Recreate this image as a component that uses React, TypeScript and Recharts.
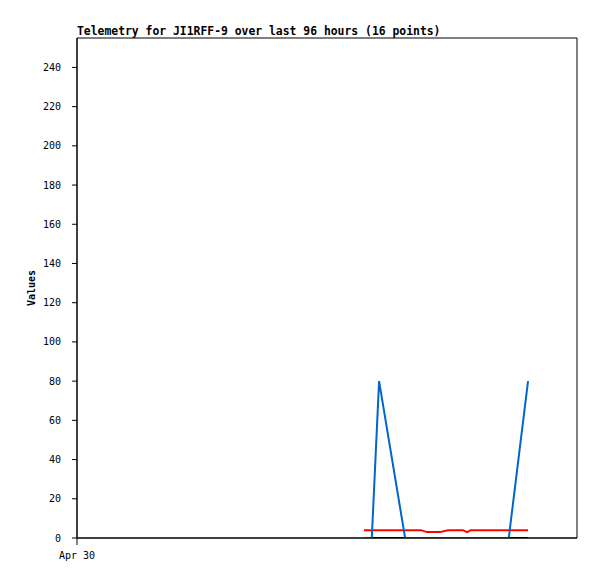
import React from 'react';
import { LineChart, Line, XAxis, YAxis, ReferenceArea } from 'recharts';

// hours since Apr 30 00:00 (x axis spans 96 hours)
const hours = [55.1, 56.6, 58.0, 63.0, 66.0, 67.2, 69.7, 71.2, 74.1, 74.9, 75.6, 78.3, 80.6, 82.9, 84.7, 86.6];
const blueValues = [0, 0, 80, 0, 0, 0, 0, 0, 0, 0, 0, 0, 0, 0, 39, 80];
const redValues = [4, 4, 4, 4, 4, 3, 3, 4, 4, 3, 4, 4, 4, 4, 4, 4];
const blackValues = [0, 0, 0, 0, 0, 0, 0, 0, 0, 0, 0, 0, 0, 0, 0, 0];
const yTicks = [0, 20, 40, 60, 80, 100, 120, 140, 160, 180, 200, 220, 240];
const xTicks = [0];
const xTickLabels = ['Apr 30'];

const data = hours.map((h, i) => ({
  t: h,
  blue: blueValues[i],
  red: redValues[i],
  black: blackValues[i],
}));

const mono = '"DejaVu Sans Mono", monospace';

const YLabel = (props: any) => {
  const { viewBox } = props;
  const cy = viewBox.y + viewBox.height / 2;
  return (
    <text
      x={31}
      y={cy}
      transform={`rotate(-90, 31, ${cy})`}
      textAnchor="middle"
      dominantBaseline="central"
      fontFamily={mono}
      fontSize={10}
      fontWeight="bold"
      fill="#000"
    >
      Values
    </text>
  );
};

export default function App() {
  return (
    <div style={{ position: 'absolute', left: 0, top: 0, width: 597, height: 579, background: '#fff' }}>
      <div
        style={{
          position: 'absolute',
          left: 77,
          top: 24,
          fontFamily: mono,
          fontSize: 11.4,
          fontWeight: 'bold',
          lineHeight: '14px',
          whiteSpace: 'nowrap',
          color: '#000',
        }}
      >
        Telemetry for JI1RFF-9 over last 96 hours (16 points)
      </div>
      <LineChart width={597} height={579} data={data} margin={{ top: 38, right: 20, left: 27, bottom: 11 }}>
        <XAxis
          dataKey="t"
          type="number"
          domain={[0, 96]}
          ticks={xTicks}
          tickFormatter={(v: number) => xTickLabels[xTicks.indexOf(v)] ?? ''}
          height={30}
          stroke="#000"
          tickSize={7}
          tickMargin={7}
          tick={{ fill: '#000', fontSize: 10, fontFamily: mono }}
          allowDataOverflow
        />
        <YAxis
          type="number"
          domain={[0, 255]}
          ticks={yTicks}
          width={50}
          stroke="#000"
          tickSize={5}
          tickMargin={11}
          tick={{ fill: '#000', fontSize: 10, fontFamily: mono }}
          label={<YLabel />}
          allowDataOverflow
        />
        <ReferenceArea x1={0} x2={96} y1={0} y2={255} fill="none" stroke="#000" strokeWidth={1} />
        <Line dataKey="black" stroke="#000000" strokeWidth={2} dot={false} isAnimationActive={false} />
        <Line dataKey="red" stroke="#ff0000" strokeWidth={2} dot={false} isAnimationActive={false} />
        <Line dataKey="blue" stroke="#0066cc" strokeWidth={2} dot={false} isAnimationActive={false} />
      </LineChart>
    </div>
  );
}
